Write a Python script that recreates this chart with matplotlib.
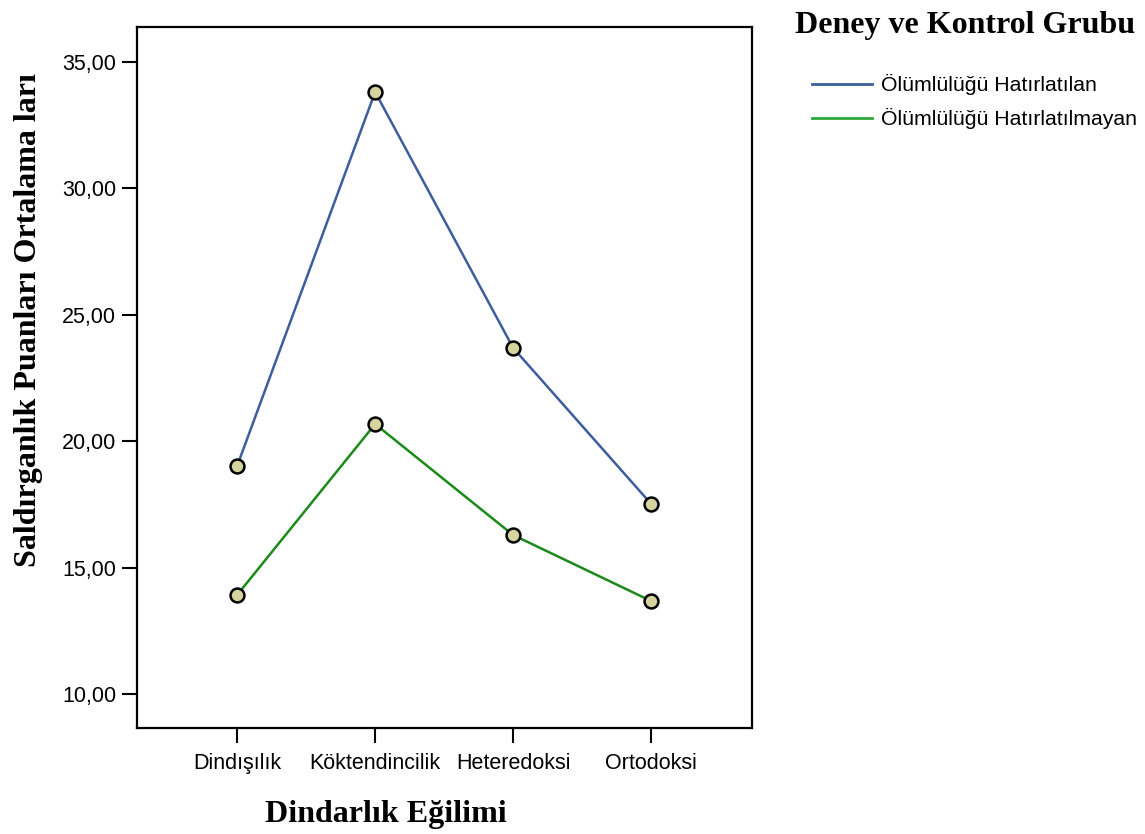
import matplotlib.pyplot as plt
from matplotlib.lines import Line2D
from matplotlib.ticker import FuncFormatter

# kategoriler ve ortalamalar
kategoriler = ["Dindışılık", "Köktendincilik", "Heteredoksi", "Ortodoksi"]
hatirlatilan = [19.02, 33.81, 23.69, 17.52]
hatirlatilmayan = [13.92, 20.68, 16.29, 13.68]
y_ticks = [10, 15, 20, 25, 30, 35]

renk_mavi = "#3c5e9c"
renk_yesil = "#1b8a1b"
renk_yesil_legend = "#2ea83c"
renk_nokta = "#d5d39e"

serif = ["Liberation Serif", "DejaVu Serif"]
sans = ["Liberation Sans", "DejaVu Sans"]

fig = plt.figure(figsize=(11.45, 8.34), dpi=100)
ax = fig.add_axes([0.1197, 0.1271, 0.537, 0.8405])

x = list(range(len(kategoriler)))
ax.plot(x, hatirlatilan, color=renk_mavi, lw=1.8, marker="o", ms=10,
        mfc=renk_nokta, mec="black", mew=1.8, zorder=3)
ax.plot(x, hatirlatilmayan, color=renk_yesil, lw=1.8, marker="o", ms=10,
        mfc=renk_nokta, mec="black", mew=1.8, zorder=3)

ax.set_xlim(-0.725, 3.73)
ax.set_ylim(8.66, 36.38)
ax.set_xticks(x)
ax.set_xticklabels(kategoriler, family=sans, fontsize=15.5)
ax.set_yticks(y_ticks)
ax.yaxis.set_major_formatter(FuncFormatter(lambda v, p: f"{v:.2f}".replace(".", ",")))
for lbl in ax.get_yticklabels():
    lbl.set_family(sans)
    lbl.set_fontsize(15.5)
ax.tick_params(axis="both", length=11, width=1.5, direction="out", pad=4)
ax.tick_params(axis="x", pad=7)

for s in ax.spines.values():
    s.set_linewidth(1.6)

ax.set_xlabel("Dindarlık Eğilimi", family=serif, fontweight="bold", fontsize=23)
ax.set_ylabel("Saldırganlık Puanları Ortalama ları", family=serif, fontweight="bold",
              fontsize=23)
ax.xaxis.set_label_coords(0.405, -0.124)
ax.yaxis.set_label_coords(-0.177, 0.582)
ax.xaxis.label.set_va("center")
ax.yaxis.label.set_va("center")

# legend
fig.text(0.843, 0.97, "Deney ve Kontrol Grubu", family=serif, fontweight="bold",
         fontsize=23, ha="center", va="center")
handles = [Line2D([], [], color=renk_mavi, lw=2),
           Line2D([], [], color=renk_yesil_legend, lw=2)]
fig.legend(handles, ["Ölümlülüğü Hatırlatılan", "Ölümlülüğü Hatırlatılmayan"],
           loc="upper left", bbox_to_anchor=(0.702, 0.9216), frameon=False,
           prop={"family": sans, "size": 15.3}, handlelength=2.8, handletextpad=0.45,
           labelspacing=0.62, borderaxespad=0)

fig.savefig("out.png", dpi=100)
